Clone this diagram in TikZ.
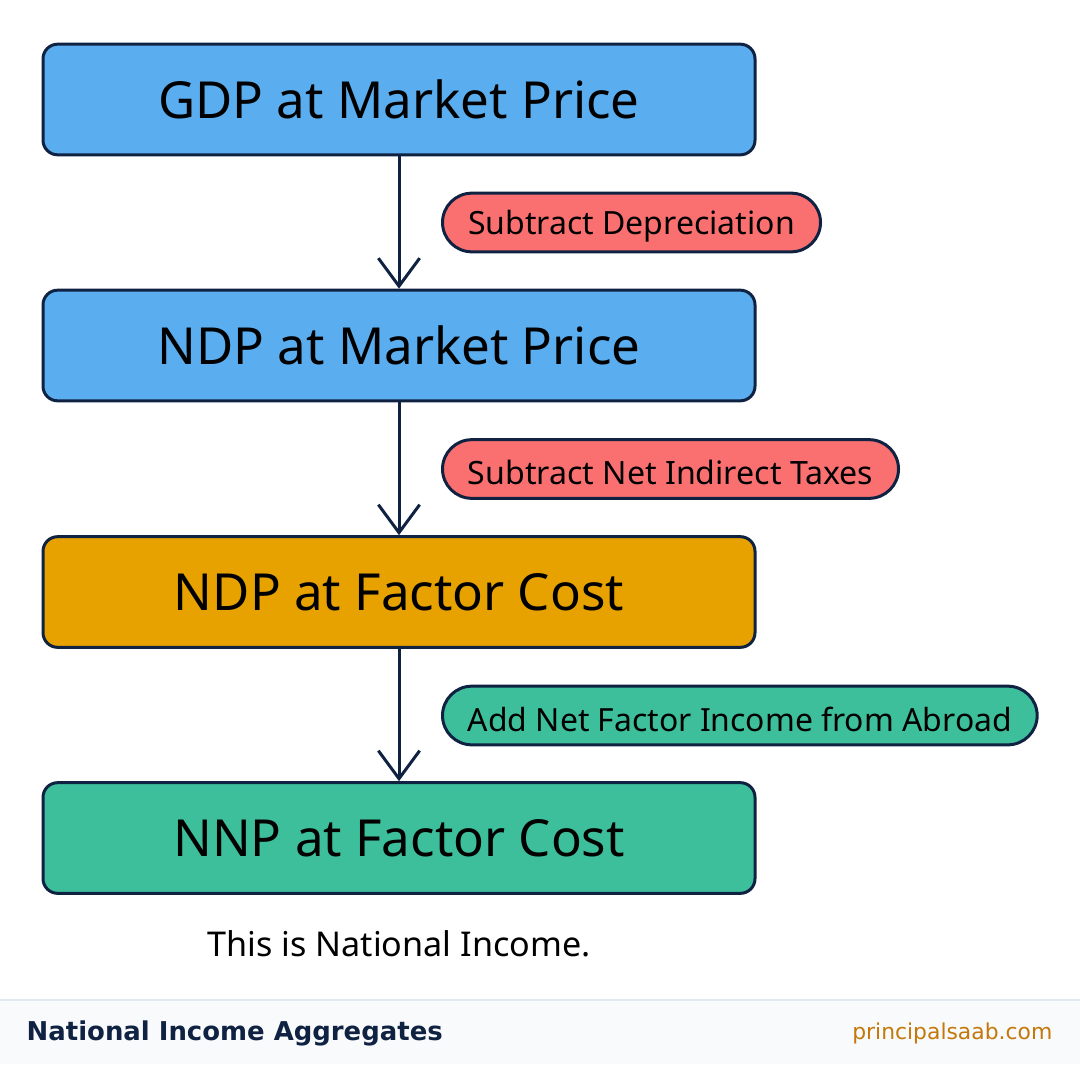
\documentclass[tikz,border=0pt]{standalone}
\usepackage{fontspec}
\setmainfont{Noto Sans}
\newfontfamily\footfont{DejaVu Sans}
\usepackage{tikz}
\usetikzlibrary{arrows.meta,calc,positioning}
\definecolor{azulCaja}{RGB}{90, 174, 240}
\definecolor{naranja}{RGB}{232, 162, 0}
\definecolor{verde}{RGB}{61, 191, 155}
\definecolor{rojo}{RGB}{250, 112, 112}
\definecolor{marino}{RGB}{16, 34, 66}
\definecolor{fondoPie}{RGB}{248, 250, 252}
\definecolor{lineaPie}{RGB}{226, 232, 240}
\definecolor{ocre}{RGB}{196, 120, 10}
\tikzstyle{aggbox}=[rectangle, draw=marino, line width=2.25pt,
                    rounded corners=11pt, minimum width=534pt,
                    minimum height=83pt, inner sep=0pt,
                    font=\fontsize{38.3}{42}\selectfont]
\tikzstyle{stepbox}=[rectangle, draw=marino, line width=2.25pt,
                    rounded corners=22pt, minimum height=44pt,
                    inner sep=0pt, anchor=west,
                    font=\fontsize{26}{30}\selectfont]
\tikzstyle{flow}=[-{Straight Barb[length=21pt,width=31pt]},
                    draw=marino, line width=2.25pt]
\newcommand{\pilltext}[2]{\raisebox{-2.6pt}[\height][\depth]{\resizebox{#1}{!}{#2}}}

\begin{document}
\begin{tikzpicture}[x=0.75pt,y=-0.75pt]
    \useasboundingbox (0,0) rectangle (1080,1064);

    % boxes
    \draw (399,99.5) node (gdpmp) [aggbox, fill=azulCaja] {GDP at Market Price};
    \draw (399,345.5) node (ndpmp) [aggbox, fill=azulCaja] {NDP at Market Price};
    \draw (399,592) node (ndpfc) [aggbox, fill=naranja] {NDP at Factor Cost};
    \draw (399,838) node (nnpfc) [aggbox, fill=verde] {NNP at Factor Cost};

    % steps
    \draw (441,222.5) node (dep) [stepbox, fill=rojo, minimum width=283.5pt]
        {\pilltext{245pt}{Subtract Depreciation}};
    \draw (441,469) node (nit) [stepbox, fill=rojo, minimum width=342pt]
        {\pilltext{304pt}{Subtract Net Indirect Taxes}};
    \draw (441,715.5) node (nfia) [stepbox, fill=verde, minimum width=446pt]
        {\pilltext{408pt}{Add Net Factor Income from Abroad}};

    \foreach \i/\j in {gdpmp/ndpmp,ndpmp/ndpfc,ndpfc/nnpfc}
        \draw [flow] (\i) to (\j);

    \draw (399,944) node (nota) {\fontsize{25.6}{29}\selectfont This is National Income.};

    % footer
    \fill [fondoPie] (0,1000) rectangle (1080,1064);
    \draw [lineaPie, line width=1pt] (0,1000) -- (1080,1000);
    \draw (22,1033) node (titulo) [anchor=west, text=marino]
        {\resizebox{312pt}{!}{\footfont\bfseries National Income Aggregates}};
    \draw (1057,1033) node (web) [anchor=east, text=ocre]
        {\resizebox{150pt}{!}{\footfont principalsaab.com}};
\end{tikzpicture}
\end{document}
